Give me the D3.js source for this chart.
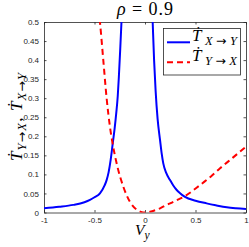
<!DOCTYPE html>
<html><head><meta charset="utf-8">
<script src="https://cdn.jsdelivr.net/npm/d3@7/dist/d3.min.js"></script>
<style>html,body{margin:0;padding:0;background:#fff;}svg{display:block;}</style>
</head><body>
<svg id="c" width="249" height="247"></svg>
<script>
// ---- data ----
const xTicks = [-1, -0.5, 0, 0.5, 1];
const xTickLabels = ["-1", "-0.5", "0", "0.5", "1"];
const yTicks = [0, 0.05, 0.1, 0.15, 0.2, 0.25, 0.3, 0.35, 0.4, 0.45, 0.5];
const yTickLabels = ["0", "0.05", "0.1", "0.15", "0.2", "0.25", "0.3", "0.35", "0.4", "0.45", "0.5"];

// T_{X->Y}, left branch
const vBlueLeft = [-1, -0.85, -0.71, -0.6, -0.545, -0.5, -0.446, -0.4, -0.38, -0.36, -0.34, -0.32, -0.3, -0.285, -0.27, -0.259, -0.245, -0.233, -0.22];
const tBlueLeft = [0.011, 0.015, 0.020, 0.027, 0.033, 0.040, 0.050, 0.071, 0.085, 0.106, 0.138, 0.18, 0.222, 0.26, 0.305, 0.355, 0.43, 0.5, 0.59];
// T_{X->Y}, right branch
const vBlueRight = [0.065, 0.076, 0.09, 0.105, 0.125, 0.149, 0.165, 0.181, 0.21, 0.248, 0.28, 0.314, 0.35, 0.396, 0.5, 0.61, 0.7, 0.81, 0.9, 1];
const tBlueRight = [0.58, 0.5, 0.40, 0.32, 0.245, 0.19, 0.155, 0.129, 0.104, 0.085, 0.071, 0.059, 0.05, 0.041, 0.031, 0.024, 0.019, 0.0136, 0.011, 0.009];
// T_{Y->X}
const vRed = [-0.47, -0.446, -0.413, -0.38, -0.347, -0.32, -0.28, -0.215, -0.149, -0.08, -0.04, 0, 0.05, 0.1, 0.149, 0.2, 0.28, 0.396, 0.545, 0.65, 0.743, 0.87, 1];
const tRed = [0.56, 0.5, 0.4, 0.3, 0.225, 0.18, 0.128, 0.068, 0.028, 0.007, 0.0015, 0, 0.002, 0.006, 0.011, 0.018, 0.028, 0.043, 0.072, 0.094, 0.116, 0.144, 0.173];

// ---- layout ----
const L = 44, R = 246, T = 22, B = 212.5;
const x = d3.scaleLinear().domain([-1, 1]).range([L, R]);
const y = d3.scaleLinear().domain([0, 0.5]).range([B, T]);
const axisColor = "#262626";
const svg = d3.select("#c");

svg.append("defs").append("clipPath").attr("id", "clip")
  .append("rect").attr("x", L).attr("y", T).attr("width", R - L).attr("height", B - T);

// axes with inward ticks
const tickLen = 2.5;
const fmtX = d => xTickLabels[xTicks.indexOf(d)];
const fmtY = d => yTickLabels[yTicks.indexOf(d)];
const gx = svg.append("g").attr("transform", `translate(0,${B})`)
  .call(d3.axisBottom(x).tickValues(xTicks).tickFormat(fmtX).tickSizeInner(-tickLen).tickSizeOuter(0).tickPadding(4.5));
const gxt = svg.append("g").attr("transform", `translate(0,${T})`)
  .call(d3.axisTop(x).tickValues(xTicks).tickFormat("").tickSizeInner(-tickLen).tickSizeOuter(0));
const gy = svg.append("g").attr("transform", `translate(${L},0)`)
  .call(d3.axisLeft(y).tickValues(yTicks).tickFormat(fmtY).tickSizeInner(-tickLen).tickSizeOuter(0).tickPadding(5));
const gyr = svg.append("g").attr("transform", `translate(${R},0)`)
  .call(d3.axisRight(y).tickValues(yTicks).tickFormat("").tickSizeInner(-tickLen).tickSizeOuter(0));
[gx, gxt, gy, gyr].forEach(g => {
  g.select(".domain").attr("stroke", axisColor).attr("stroke-width", 0.8);
  g.selectAll(".tick line").attr("stroke", axisColor).attr("stroke-width", 0.8);
  g.selectAll("text").attr("fill", axisColor).style("font-family", "'Liberation Sans', Arial, sans-serif").style("font-size", "8px");
});

// lines
const line = d3.line().x(d => x(d[0])).y(d => y(d[1])).curve(d3.curveMonotoneX);
const plot = svg.append("g").attr("clip-path", "url(#clip)");
plot.append("path").datum(d3.zip(vBlueLeft, tBlueLeft)).attr("d", line)
  .attr("fill", "none").attr("stroke", "#0000ff").attr("stroke-width", 2);
plot.append("path").datum(d3.zip(vBlueRight, tBlueRight)).attr("d", line)
  .attr("fill", "none").attr("stroke", "#0000ff").attr("stroke-width", 2);
plot.append("path").datum(d3.zip(vRed, tRed)).attr("d", line)
  .attr("fill", "none").attr("stroke", "#ff0000").attr("stroke-width", 2).attr("stroke-dasharray", "6,4");

// math label helpers
const serif = "'Liberation Serif', 'DejaVu Serif', 'Times New Roman', serif";
const bigFs = 17, subFs = 12.5, subDy = 4;
function addTerm(t, a, b) {
  t.append("tspan").style("font-size", bigFs + "px").text("\u1E6A");
  t.append("tspan").attr("dy", subDy).style("font-size", subFs + "px").text(a);
  t.append("tspan").style("font-size", subFs + "px").style("font-style", "normal")
    .style("font-family", "'DejaVu Sans', sans-serif").text("\u2192");
  t.append("tspan").style("font-size", subFs + "px").text(b);
}
function mathText(g, x0, y0, len) {
  return g.append("text").attr("x", x0).attr("y", y0)
    .attr("textLength", len).attr("lengthAdjust", "spacing")
    .style("font-family", serif).style("font-style", "italic").attr("fill", "#000");
}

// legend
const lg = svg.append("g");
lg.append("rect").attr("x", 163.5).attr("y", 28.5).attr("width", 77).attr("height", 46.5)
  .attr("fill", "#fff").attr("stroke", axisColor).attr("stroke-width", 0.8);
lg.append("line").attr("x1", 167).attr("x2", 190).attr("y1", 42.3).attr("y2", 42.3)
  .attr("stroke", "#0000ff").attr("stroke-width", 2);
lg.append("line").attr("x1", 167).attr("x2", 190).attr("y1", 62.3).attr("y2", 62.3)
  .attr("stroke", "#ff0000").attr("stroke-width", 2).attr("stroke-dasharray", "6,4");
addTerm(mathText(lg, 192, 40.5, 45), "X", "Y");
addTerm(mathText(lg, 192, 60.5, 45), "Y", "X");

// title
const title = svg.append("text").attr("x", 117).attr("y", 14.5)
  .attr("textLength", 56).attr("lengthAdjust", "spacing")
  .style("font-family", serif).style("font-size", "18px").attr("fill", "#000");
title.append("tspan").style("font-style", "italic").text("\u03C1");
title.append("tspan").text(" = 0.9");

// x label
const xl = svg.append("text").attr("x", 135).attr("y", 235)
  .style("font-family", serif).style("font-style", "italic").attr("fill", "#000");
xl.append("tspan").style("font-size", "15.5px").text("V");
xl.append("tspan").attr("dy", 4).style("font-size", "11.5px").text("y");

// y label (rotated)
const yl = svg.append("g").attr("transform", "translate(22,161) rotate(-90)");
const ylt = mathText(yl, 0, 0, 88);
addTerm(ylt, "Y", "X");
ylt.append("tspan").attr("dy", -subDy).style("font-size", bigFs + "px").style("font-style", "normal").text(", ");
addTerm(ylt, "X", "Y");
</script>
</body></html>
